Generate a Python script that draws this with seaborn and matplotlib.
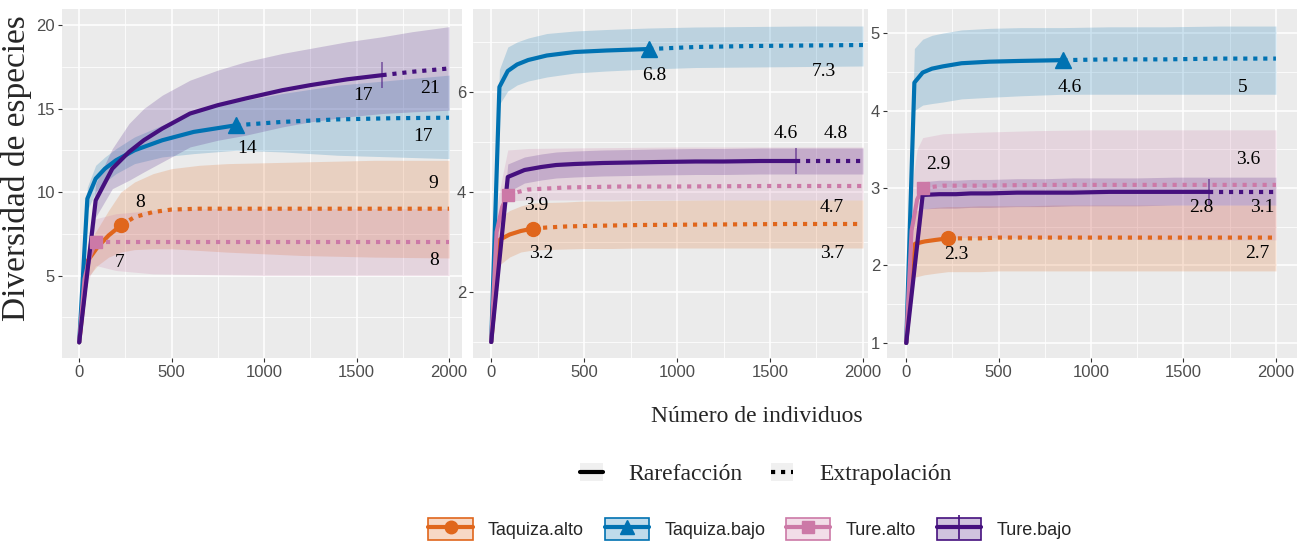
import matplotlib
matplotlib.use("Agg")
import matplotlib.pyplot as plt
from matplotlib import font_manager
from matplotlib.patches import Patch
from matplotlib.lines import Line2D
from matplotlib.legend_handler import HandlerTuple
import numpy as np
import pandas as pd
import seaborn as sns

# ---------------------------------------------------------------- data
ASSEMBLAGES = ["Taquiza.alto", "Taquiza.bajo", "Ture.alto", "Ture.bajo"]
OBSERVED_N = [226, 850, 90, 1640]

# sample sizes (number of individuals) of each curve
N_TAQ_ALTO = [1, 48, 100, 160, 226, 300, 400, 500, 650, 800, 1200, 1600, 2000]
N_TAQ_BAJO = [1, 45, 90, 140, 200, 300, 450, 620, 850, 1100, 1400, 1700, 2000]
N_TURE_ALTO = [1, 30, 60, 90, 200, 400, 700, 1000, 1500, 2000]
N_TURE_BAJO = [1, 90, 180, 270, 350, 450, 600, 750, 900, 1100, 1250, 1450, 1640, 1800, 2000]

# q = 0 (species richness)
Q0_TAQ_ALTO = [1, 5.9, 6.7, 7.4, 8.0, 8.5, 8.8, 8.95, 9.0, 9.0, 9.0, 9.0, 9.0]
Q0_TAQ_ALTO_LO = [1, 4.9, 5.6, 6.1, 6.4, 6.55, 6.6, 6.6, 6.5, 6.4, 6.2, 6.1, 6.05]
Q0_TAQ_ALTO_HI = [1, 6.9, 7.8, 8.9, 10.0, 10.6, 11.1, 11.4, 11.6, 11.7, 11.8, 11.9, 11.9]
Q0_TAQ_BAJO = [1, 9.6, 10.8, 11.4, 11.9, 12.5, 13.1, 13.6, 14.0, 14.2, 14.35, 14.42, 14.45]
Q0_TAQ_BAJO_LO = [1, 8.9, 10.0, 10.6, 11.1, 11.7, 12.1, 12.3, 12.5, 12.4, 12.2, 12.1, 12.0]
Q0_TAQ_BAJO_HI = [1, 10.3, 11.6, 12.1, 12.6, 13.3, 14.0, 14.8, 15.4, 15.9, 16.4, 16.7, 17.0]
Q0_TURE_ALTO = [1, 4.8, 6.2, 7.0, 7.0, 7.0, 7.0, 7.0, 7.0, 7.0]
Q0_TURE_ALTO_LO = [1, 3.9, 5.0, 5.6, 5.3, 5.1, 5.05, 5.0, 5.0, 5.0]
Q0_TURE_ALTO_HI = [1, 5.7, 7.4, 8.4, 8.7, 8.9, 9.0, 9.0, 9.0, 9.0]
Q0_TURE_BAJO = [1, 9.5, 11.4, 12.4, 13.1, 13.8, 14.7, 15.2, 15.6, 16.1, 16.4, 16.75, 17.0, 17.2, 17.4]
Q0_TURE_BAJO_LO = [1, 8.5, 10.2, 10.7, 11.2, 11.8, 12.7, 13.1, 13.4, 13.9, 14.2, 14.5, 14.7, 14.8, 14.9]
Q0_TURE_BAJO_HI = [1, 10.5, 12.6, 14.1, 15.0, 15.8, 16.7, 17.3, 17.8, 18.3, 18.6, 19.0, 19.3, 19.6, 19.9]

# q = 1 (Shannon diversity)
Q1_TAQ_ALTO = [1, 3.05, 3.15, 3.22, 3.27, 3.29, 3.31, 3.32, 3.33, 3.34, 3.35, 3.36, 3.36]
Q1_TAQ_ALTO_LO = [1, 2.55, 2.7, 2.8, 2.84, 2.85, 2.86, 2.87, 2.87, 2.88, 2.88, 2.88, 2.88]
Q1_TAQ_ALTO_HI = [1, 3.5, 3.63, 3.72, 3.78, 3.79, 3.8, 3.82, 3.82, 3.83, 3.84, 3.84, 3.84]
Q1_TAQ_BAJO = [1, 6.1, 6.42, 6.55, 6.64, 6.73, 6.8, 6.83, 6.86, 6.9, 6.92, 6.93, 6.94]
Q1_TAQ_BAJO_LO = [1, 5.75, 6.02, 6.14, 6.22, 6.3, 6.38, 6.42, 6.46, 6.49, 6.5, 6.51, 6.52]
Q1_TAQ_BAJO_HI = [1, 6.45, 6.9, 7.0, 7.08, 7.17, 7.22, 7.25, 7.28, 7.3, 7.31, 7.32, 7.32]
Q1_TURE_ALTO = [1, 3.2, 3.7, 3.95, 4.05, 4.09, 4.11, 4.11, 4.12, 4.12]
Q1_TURE_ALTO_LO = [1, 2.7, 3.3, 3.82, 3.84, 3.84, 3.84, 3.84, 3.84, 3.84]
Q1_TURE_ALTO_HI = [1, 3.7, 4.3, 4.84, 4.87, 4.88, 4.89, 4.9, 4.9, 4.9]
Q1_TURE_BAJO = [1, 4.3, 4.44, 4.5, 4.54, 4.56, 4.58, 4.59, 4.6, 4.61, 4.61, 4.62, 4.62, 4.62, 4.62]
Q1_TURE_BAJO_LO = [1, 4.0, 4.18, 4.24, 4.28, 4.3, 4.32, 4.33, 4.34, 4.35, 4.35, 4.36, 4.36, 4.36, 4.36]
Q1_TURE_BAJO_HI = [1, 4.56, 4.7, 4.76, 4.8, 4.82, 4.84, 4.85, 4.86, 4.87, 4.87, 4.88, 4.88, 4.88, 4.88]

# q = 2 (Simpson diversity)
Q2_TAQ_ALTO = [1, 2.28, 2.31, 2.33, 2.35, 2.35, 2.35, 2.36, 2.36, 2.36, 2.36, 2.36, 2.36]
Q2_TAQ_ALTO_LO = [1, 1.85, 1.88, 1.9, 1.92, 1.92, 1.92, 1.93, 1.93, 1.93, 1.93, 1.93, 1.93]
Q2_TAQ_ALTO_HI = [1, 2.7, 2.73, 2.75, 2.76, 2.76, 2.77, 2.77, 2.77, 2.78, 2.78, 2.78, 2.78]
Q2_TAQ_BAJO = [1, 4.36, 4.49, 4.54, 4.57, 4.61, 4.63, 4.64, 4.65, 4.66, 4.66, 4.67, 4.67]
Q2_TAQ_BAJO_LO = [1, 4.0, 4.07, 4.09, 4.11, 4.15, 4.17, 4.19, 4.21, 4.21, 4.21, 4.21, 4.21]
Q2_TAQ_BAJO_HI = [1, 4.8, 4.92, 4.97, 5.0, 5.04, 5.06, 5.07, 5.07, 5.08, 5.08, 5.09, 5.09]
Q2_TURE_ALTO = [1, 2.45, 2.85, 3.0, 3.03, 3.03, 3.04, 3.04, 3.04, 3.04]
Q2_TURE_ALTO_LO = [1, 1.9, 2.2, 2.35, 2.36, 2.36, 2.35, 2.34, 2.33, 2.33]
Q2_TURE_ALTO_HI = [1, 3.0, 3.5, 3.65, 3.7, 3.72, 3.74, 3.75, 3.75, 3.75]
Q2_TURE_BAJO = [1, 2.91, 2.92, 2.92, 2.93, 2.93, 2.94, 2.94, 2.94, 2.95, 2.95, 2.95, 2.95, 2.95, 2.95]
Q2_TURE_BAJO_LO = [1, 2.73, 2.74, 2.74, 2.75, 2.75, 2.76, 2.76, 2.77, 2.77, 2.77, 2.78, 2.78, 2.78, 2.78]
Q2_TURE_BAJO_HI = [1, 3.08, 3.1, 3.1, 3.11, 3.11, 3.12, 3.12, 3.13, 3.13, 3.13, 3.14, 3.14, 3.14, 3.14]

# value labels printed next to the curves: (text, n, diversity)
LABELS_Q0 = [("8", 330, 9.4), ("7", 222, 5.75), ("14", 908, 12.6),
             ("17", 1535, 15.8), ("21", 1897, 16.2), ("17", 1859, 13.3),
             ("9", 1915, 10.5), ("8", 1919, 5.9)]
LABELS_Q1 = [("6.8", 876, 6.32), ("7.3", 1790, 6.4), ("4.6", 1586, 5.18),
             ("4.8", 1855, 5.18), ("3.9", 242, 3.74), ("4.7", 1833, 3.7),
             ("3.2", 269, 2.76), ("3.7", 1833, 2.76)]
LABELS_Q2 = [("4.6", 886, 4.30), ("5", 1822, 4.30), ("2.9", 173, 3.30),
             ("3.6", 1849, 3.37), ("2.8", 1595, 2.75), ("3.1", 1924, 2.75),
             ("2.3", 270, 2.14), ("2.7", 1897, 2.15)]

METHODS = ["Rarefacción", "Extrapolación"]

# ---------------------------------------------------------------- styling
COLORS = ["#E0661C", "#0072B2", "#CC79A7", "#45107E"]
MARKERS = ["o", "^", "s", "|"]
MARKER_SIZES = [10, 11, 9, 19]
PANEL_BG = "#EBEBEB"
LW = 3.0
DOTS = (1, 1.4)

sns.set_theme(style="darkgrid")
names = {f.name for f in font_manager.fontManager.ttflist}
TICK_FONT = "Liberation Sans Narrow" if "Liberation Sans Narrow" in names else "Liberation Sans"
SERIF = "Liberation Serif"
plt.rcParams["font.family"] = ["Liberation Sans", "DejaVu Sans"]

# ---------------------------------------------------------------- long table
sizes = [N_TAQ_ALTO, N_TAQ_BAJO, N_TURE_ALTO, N_TURE_BAJO]
panels = [
    ("q0", [Q0_TAQ_ALTO, Q0_TAQ_BAJO, Q0_TURE_ALTO, Q0_TURE_BAJO],
     [Q0_TAQ_ALTO_LO, Q0_TAQ_BAJO_LO, Q0_TURE_ALTO_LO, Q0_TURE_BAJO_LO],
     [Q0_TAQ_ALTO_HI, Q0_TAQ_BAJO_HI, Q0_TURE_ALTO_HI, Q0_TURE_BAJO_HI]),
    ("q1", [Q1_TAQ_ALTO, Q1_TAQ_BAJO, Q1_TURE_ALTO, Q1_TURE_BAJO],
     [Q1_TAQ_ALTO_LO, Q1_TAQ_BAJO_LO, Q1_TURE_ALTO_LO, Q1_TURE_BAJO_LO],
     [Q1_TAQ_ALTO_HI, Q1_TAQ_BAJO_HI, Q1_TURE_ALTO_HI, Q1_TURE_BAJO_HI]),
    ("q2", [Q2_TAQ_ALTO, Q2_TAQ_BAJO, Q2_TURE_ALTO, Q2_TURE_BAJO],
     [Q2_TAQ_ALTO_LO, Q2_TAQ_BAJO_LO, Q2_TURE_ALTO_LO, Q2_TURE_BAJO_LO],
     [Q2_TAQ_ALTO_HI, Q2_TAQ_BAJO_HI, Q2_TURE_ALTO_HI, Q2_TURE_BAJO_HI]),
]

rows = []
for order, vals, los, his in panels:
    for name, obs, n, v, lo, hi in zip(ASSEMBLAGES, OBSERVED_N, sizes, vals, los, his):
        for ni, vi, li, hi_ in zip(n, v, lo, hi):
            if ni <= obs:
                rows.append((order, name, "Rarefacción", ni, vi, li, hi_))
            if ni >= obs:
                rows.append((order, name, "Extrapolación", ni, vi, li, hi_))
df = pd.DataFrame(rows, columns=["order", "Assemblage", "Method", "m", "qD", "lo", "hi"])

# ---------------------------------------------------------------- figure
W, H = 1298, 544
fig = plt.figure(figsize=(W / 100, H / 100), dpi=100)
fig.patch.set_facecolor("white")

def frame(left, right, top=9, bottom=358):
    return [left / W, 1 - bottom / H, (right - left) / W, (bottom - top) / H]

axes_specs = [
    (frame(62, 462), (-92, 2070), (0.06, 20.96), [5, 10, 15, 20], [2.5, 7.5, 12.5, 17.5], LABELS_Q0),
    (frame(473, 868), (-97, 2027), (0.68, 7.66), [2, 4, 6], [1, 3, 5, 7], LABELS_Q1),
    (frame(887, 1297), (-103, 2114), (0.806, 5.31), [1, 2, 3, 4, 5], [1.5, 2.5, 3.5, 4.5], LABELS_Q2),
]

palette = dict(zip(ASSEMBLAGES, COLORS))
for (order, _, _, _), (rect, xlim, ylim, yt, ymt, labels) in zip(panels, axes_specs):
    ax = fig.add_axes(rect)
    ax.set_facecolor(PANEL_BG)
    d = df[df["order"] == order]

    # confidence bands
    for name in ASSEMBLAGES:
        s = d[d["Assemblage"] == name].drop_duplicates("m").sort_values("m")
        ax.fill_between(s["m"], s["lo"], s["hi"], color=palette[name], alpha=0.2, lw=0, zorder=1)

    # rarefaction / extrapolation curves
    sns.lineplot(data=d, x="m", y="qD", hue="Assemblage", style="Method",
                 hue_order=ASSEMBLAGES, style_order=METHODS, palette=palette,
                 dashes={"Rarefacción": "", "Extrapolación": DOTS},
                 estimator=None, sort=True, linewidth=LW, legend=False, ax=ax, zorder=3)

    # observed sample points
    for name, obs, mk, ms in zip(ASSEMBLAGES, OBSERVED_N, MARKERS, MARKER_SIZES):
        p = d[(d["Assemblage"] == name) & (d["m"] == obs)].iloc[0]
        if mk == "|":
            ax.plot([obs], [p["qD"]], marker=mk, ms=ms, mew=1.1, color=palette[name], alpha=0.65, zorder=4)
        else:
            ax.plot([obs], [p["qD"]], marker=mk, ms=ms, color=palette[name], mec=palette[name], zorder=4)

    for txt, x, y in labels:
        ax.text(x, y, txt, ha="center", va="center", fontsize=14, family=SERIF, color="black", zorder=6)

    ax.set_xlim(*xlim)
    ax.set_ylim(*ylim)
    ax.set_xticks([0, 500, 1000, 1500, 2000])
    ax.set_xticks([250, 750, 1250, 1750], minor=True)
    ax.set_yticks(yt)
    ax.set_yticks(ymt, minor=True)
    ax.grid(which="major", color="white", lw=1.1)
    ax.grid(which="minor", color="white", lw=0.55)
    for sp in ax.spines.values():
        sp.set_visible(False)
    ax.tick_params(which="major", length=3, width=0.8, color="#333333", labelcolor="#4D4D4D",
                   labelsize=12, pad=2, bottom=True, left=True)
    ax.tick_params(which="minor", length=0)
    for lab in ax.get_xticklabels() + ax.get_yticklabels():
        lab.set_family(TICK_FONT)
    ax.set_xlabel("")
    ax.set_ylabel("")

fig.text(17 / W, 1 - 168 / H, "Diversidad de especies", rotation=90, ha="center", va="center",
         fontsize=24, family=SERIF)
fig.text(757 / W, 1 - 417 / H, "Número de individuos", ha="center", va="center",
         fontsize=17, family=SERIF)

# legend: method
key_bg = "#F0F0F0"
method_handles = [
    (Patch(fc=key_bg, ec="none"), Line2D([], [], color="black", lw=LW)),
    (Patch(fc=key_bg, ec="none"), Line2D([], [], color="black", lw=LW, dashes=DOTS)),
]
fig.legend(method_handles, METHODS, loc="center", bbox_to_anchor=(766 / W, 1 - 474 / H), ncol=2,
           frameon=False, prop={"family": SERIF, "size": 17}, handlelength=0.95, handleheight=0.8,
           handletextpad=1.1, columnspacing=1.2,
           handler_map={tuple: HandlerTuple(ndivide=1)})

# legend: assemblages
group_handles = []
for c, mk, ms in zip(COLORS, MARKERS, MARKER_SIZES):
    box = Patch(fc=matplotlib.colors.to_rgba(c, 0.25), ec=c, lw=1.2)
    if mk == "|":
        ln = Line2D([], [], color=c, lw=LW, marker=mk, ms=17, mew=1.2)
    else:
        ln = Line2D([], [], color=c, lw=LW, marker=mk, ms=ms - 1)
    group_handles.append((box, ln))
fig.legend(group_handles, ASSEMBLAGES, loc="center", bbox_to_anchor=(750 / W, 1 - 529 / H), ncol=4,
           frameon=False, prop={"family": "Liberation Sans", "size": 13}, handlelength=2.45,
           handleheight=1.45, handletextpad=0.85, columnspacing=1.15,
           handler_map={tuple: HandlerTuple(ndivide=1)})

fig.savefig("out.png", dpi=100, facecolor="white")
